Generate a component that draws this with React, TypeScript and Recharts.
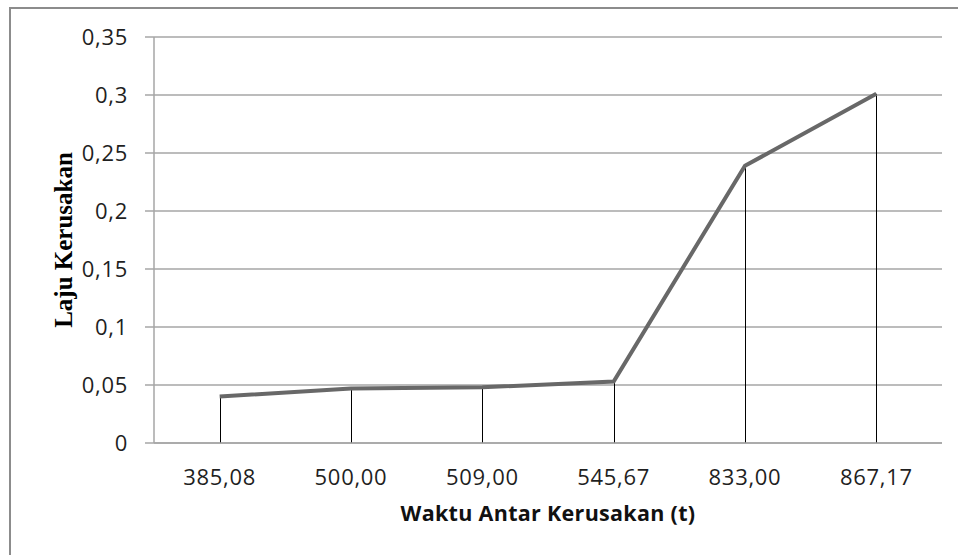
import React from "react";
import { Bar, CartesianGrid, ComposedChart, Line, XAxis, YAxis } from "recharts";

const categories = ["385,08", "500,00", "509,00", "545,67", "833,00", "867,17"];
const lajuKerusakan = [0.04, 0.047, 0.048, 0.053, 0.239, 0.301];
const yTicks = [0, 0.05, 0.1, 0.15, 0.2, 0.25, 0.3, 0.35];

const data = categories.map((t, i) => ({ t, laju: lajuKerusakan[i] }));

const GRID = "#a6a6a6";
const LINE = "#686868";
const TEXT = "#1f1f1f";
const TICK_FONT = "'Open Sans', sans-serif";

const formatTick = (v: number) => String(v).replace(".", ",");

// thin black drop line from the value down to the axis, pixel-snapped
const DropLine = (props: any) => {
  const { x, y, width, height } = props;
  const cx = Math.round(x + width / 2) + 0.5;
  return <line x1={cx} x2={cx} y1={y} y2={y + height} stroke="#000" strokeWidth={1} />;
};

// vertical axis title centred on the plot height
const YTitle = (props: any) => {
  const { viewBox } = props;
  const x = viewBox.x + 63 - viewBox.x;
  const y = viewBox.y + viewBox.height / 2;
  return (
    <text
      x={x}
      y={y}
      transform={`rotate(-90, ${x}, ${y})`}
      textAnchor="middle"
      dominantBaseline="central"
      fill="#000"
      fontSize={25}
      fontWeight={700}
      fontFamily="'Liberation Serif', 'Times New Roman', serif"
    >
      Laju Kerusakan
    </text>
  );
};

export default function App() {
  return (
    <div
      style={{
        position: "absolute",
        left: 0,
        top: 0,
        width: 958,
        height: 555,
        background: "#fff",
        overflow: "hidden",
      }}
    >
      {/* outer chart frame, right/bottom edges fall outside the picture */}
      <div
        style={{
          position: "absolute",
          left: 9,
          top: 7,
          width: 1000,
          height: 600,
          border: "2px solid #8c8c8c",
        }}
      />
      <div style={{ position: "absolute", left: 0, top: 0 }}>
        <ComposedChart
          width={958}
          height={555}
          data={data}
          margin={{ top: 37, right: 16, bottom: 0, left: 74 }}
        >
          <CartesianGrid stroke={GRID} strokeWidth={1.5} vertical={false} />
          <XAxis
            dataKey="t"
            height={112}
            axisLine={{ stroke: GRID, strokeWidth: 1.5 }}
            tickLine={false}
            tickSize={0}
            tickMargin={26}
            tick={{ fill: TEXT, fontSize: 22, fontFamily: TICK_FONT, letterSpacing: 0.7 }}
            label={{
              value: "Waktu Antar Kerusakan (t)",
              position: "insideTop",
              offset: 63,
              fill: "#111",
              fontSize: 21.5,
              fontWeight: 700,
              fontFamily: TICK_FONT,
              letterSpacing: 0.3,
            }}
          />
          <YAxis
            width={80}
            domain={[0, 0.35]}
            ticks={yTicks}
            interval={0}
            axisLine={{ stroke: GRID, strokeWidth: 1.5 }}
            tickLine={{ stroke: GRID, strokeWidth: 1.5 }}
            tickSize={9}
            tickMargin={17}
            tickFormatter={formatTick}
            tick={{ fill: TEXT, fontSize: 22, fontFamily: TICK_FONT, letterSpacing: 0.7 }}
            label={{ content: YTitle }}
          />
          <Bar dataKey="laju" barSize={1} shape={DropLine} isAnimationActive={false} />
          <Line
            type="linear"
            dataKey="laju"
            stroke={LINE}
            strokeWidth={4}
            dot={false}
            activeDot={false}
            isAnimationActive={false}
          />
        </ComposedChart>
      </div>
    </div>
  );
}
